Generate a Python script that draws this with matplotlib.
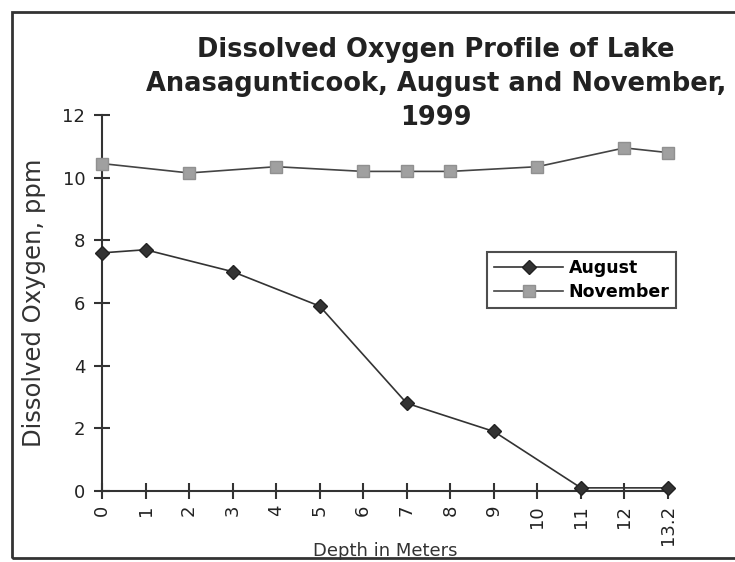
import matplotlib.pyplot as plt
from matplotlib.patches import Rectangle

depths = ["0", "1", "2", "3", "4", "5", "6", "7", "8", "9", "10", "11", "12", "13.2"]

# August readings (category index, ppm)
aug_idx = [0, 1, 3, 5, 7, 9, 11, 13]
aug_do = [7.6, 7.7, 7.0, 5.9, 2.8, 1.9, 0.1, 0.1]

# November readings
nov_idx = [0, 2, 4, 6, 7, 8, 10, 12, 13]
nov_do = [10.45, 10.15, 10.35, 10.2, 10.2, 10.2, 10.35, 10.95, 10.8]

fig = plt.figure(figsize=(7.35, 5.62), dpi=100)
ax = fig.add_axes([102/735, 1 - 491/562, (668 - 102)/735, (491 - 115)/562])

ax.plot(aug_idx, aug_do, color="#333333", linewidth=1.2, marker="D",
        markersize=7, markerfacecolor="#333333", markeredgecolor="#222222",
        label="August", clip_on=False, zorder=3)
ax.plot(nov_idx, nov_do, color="#444444", linewidth=1.2, marker="s",
        markersize=8, markerfacecolor="#a0a0a0", markeredgecolor="#909090",
        label="November", clip_on=False, zorder=3)

ax.set_xlim(0, 13)
ax.set_ylim(0, 12)
ax.set_yticks([0, 2, 4, 6, 8, 10, 12])
ax.set_xticks(range(len(depths)))
ax.set_xticklabels(depths, rotation=90, va="top")

for s in ["top", "right"]:
    ax.spines[s].set_visible(False)
for s in ["left", "bottom"]:
    ax.spines[s].set_linewidth(1.5)
    ax.spines[s].set_color("#333333")

ax.tick_params(axis="both", direction="inout", length=12, width=1.5,
               color="#333333", labelsize=13, labelcolor="#222222")
ax.tick_params(axis="y", pad=6)
ax.tick_params(axis="x", pad=4)

ax.set_ylabel("Dissolved Oxygen, ppm", fontsize=17.5, color="#333333", labelpad=12)
ax.set_xlabel("Depth in Meters", fontsize=13, color="#333333", labelpad=0)
ax.xaxis.set_label_coords(0.5, -0.135)

fig.text(0.593, 0.935, "Dissolved Oxygen Profile of Lake\nAnasagunticook, August and November,\n1999",
         ha="center", va="top", fontsize=18.5, fontweight="bold", color="#222222",
         linespacing=1.42)

leg = ax.legend(loc="upper left", bbox_to_anchor=(0.68, 0.636), borderaxespad=0,
                frameon=True, fancybox=False, edgecolor="#222222", fontsize=12.5,
                handlelength=4.0, borderpad=0.4, labelspacing=0.35, handletextpad=0.3)
leg.get_frame().set_linewidth(1.5)
for t in leg.get_texts():
    t.set_fontweight("bold")

fig.patches.append(Rectangle((12/735, 4/562), 1.1, 1 - 16/562, transform=fig.transFigure,
                             fill=False, edgecolor="#333333", linewidth=2))

plt.savefig("out.png", dpi=100)
